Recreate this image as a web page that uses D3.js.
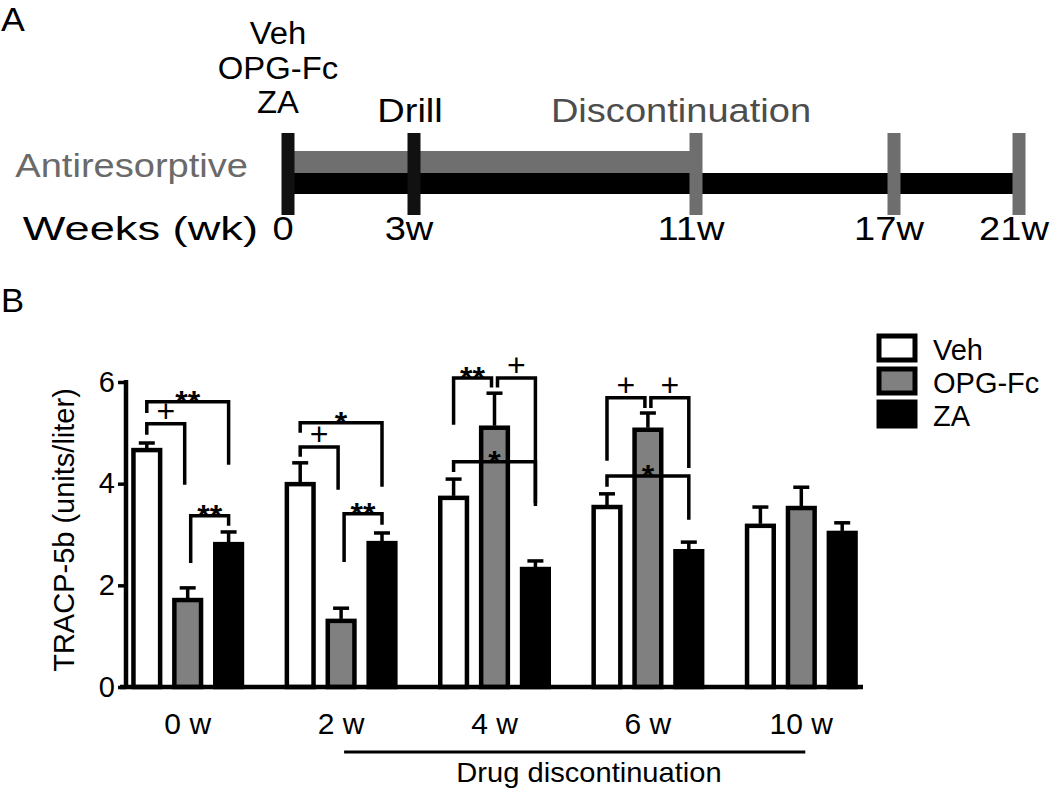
<!DOCTYPE html>
<html>
<head>
<meta charset="utf-8">
<script src="https://cdn.jsdelivr.net/npm/d3@7"></script>
<style>
  body { margin: 0; background: #fff; }
  svg { display: block; font-family: "Liberation Sans", Arial, sans-serif; }
</style>
</head>
<body>
<div id="chart"></div>
<script>
// ---- panel A: timeline ----
var timeWeeks = [0, 3, 11, 17, 21];
var timeLabels = ["0", "3w", "11w", "17w", "21w"];
var timeTickColor = ["#111", "#111", "#6e6e6e", "#6e6e6e", "#6e6e6e"];
var treatments = ["Veh", "OPG-Fc", "ZA"];

// ---- panel B: TRACP-5b ----
var groups = ["0 w", "2 w", "4 w", "6 w", "10 w"];
var series = ["Veh", "OPG-Fc", "ZA"];
var seriesFill = ["#ffffff", "#808080", "#000000"];
var vehMean = [4.70, 4.03, 3.76, 3.58, 3.21];
var vehErr  = [0.10, 0.38, 0.33, 0.22, 0.33];
var opgMean = [1.75, 1.34, 5.14, 5.10, 3.56];
var opgErr  = [0.20, 0.21, 0.64, 0.29, 0.37];
var zaMean  = [2.85, 2.87, 2.36, 2.71, 3.07];
var zaErr   = [0.20, 0.16, 0.12, 0.14, 0.16];
var yTicks = [0, 2, 4, 6];

var sigBrackets = [
  {group: "0 w", from: "Veh", to: "OPG-Fc", top: 5.18, left: 4.96, right: 3.98, mark: "+"},
  {group: "0 w", from: "Veh", to: "ZA", top: 5.61, left: 5.39, right: 4.37, mark: "**"},
  {group: "0 w", from: "OPG-Fc", to: "ZA", top: 3.37, left: 2.44, right: 3.17, mark: "**"},
  {group: "2 w", from: "Veh", to: "OPG-Fc", top: 4.72, left: 4.53, right: 3.88, mark: "+"},
  {group: "2 w", from: "Veh", to: "ZA", top: 5.20, left: 5.00, right: 3.94, mark: "*"},
  {group: "2 w", from: "OPG-Fc", to: "ZA", top: 3.41, left: 2.46, right: 3.19, mark: "**"},
  {group: "4 w", from: "Veh", to: "OPG-Fc", top: 6.08, left: 5.16, right: 5.89, mark: "**"},
  {group: "4 w", from: "OPG-Fc", to: "ZA", top: 6.08, left: 5.89, right: 3.62, mark: "+"},
  {group: "4 w", from: "Veh", to: "ZA", top: 4.43, left: 4.23, right: 3.56, mark: "*"},
  {group: "6 w", from: "Veh", to: "OPG-Fc", top: 5.69, left: 4.45, right: 5.49, mark: "+"},
  {group: "6 w", from: "OPG-Fc", to: "ZA", top: 5.69, left: 5.49, right: 4.31, mark: "+"},
  {group: "6 w", from: "Veh", to: "ZA", top: 4.15, left: 3.94, right: 3.29, mark: "*"}
];

const width = 1050;
const height = 792;

var svg = d3.select("#chart").append("svg")
    .attr("width", width)
    .attr("height", height);

// text helper: the figure's lettering is wider than Arial, so stretch it a bit
function addText(g, str, x, y, size, anchor, fill, sx) {
    return g.append("text")
        .attr("transform", "translate(" + x + "," + y + ") scale(" + sx + ",1)")
        .attr("font-size", size)
        .attr("text-anchor", anchor)
        .attr("fill", fill)
        .text(str);
}

/* ================= Panel A ================= */
var gA = svg.append("g").attr("class", "panelA");
var tScale = d3.scaleLinear().domain(timeWeeks).range([288, 414, 696, 894, 1019]);

addText(gA, "A", 1, 31, 34, "start", "#000", 1.05);

// grey antiresorptive bar (0 -> 11w) and black follow-up bar (0 -> 21w)
gA.append("rect")
    .attr("x", tScale(0)).attr("y", 151)
    .attr("width", tScale(11) - tScale(0)).attr("height", 22)
    .attr("fill", "#6f6f6f");
gA.append("rect")
    .attr("x", tScale(0)).attr("y", 173)
    .attr("width", tScale(21) - tScale(0)).attr("height", 21)
    .attr("fill", "#000");

gA.selectAll("rect.tick")
    .data(timeWeeks)
    .join("rect")
        .attr("class", "tick")
        .attr("x", function(d){ return tScale(d) - 6.5; })
        .attr("y", 133)
        .attr("width", 13)
        .attr("height", 82)
        .attr("fill", function(d, i){ return timeTickColor[i]; });

timeWeeks.forEach(function(w, i) {
    addText(gA, timeLabels[i], tScale(w) - 5, 240, 34, "middle", "#000", 1.12);
});

treatments.forEach(function(t, i) {
    addText(gA, t, tScale(0) - 10, 44 + i * 34.5, 31, "middle", "#000", 1.06);
});
addText(gA, "Drill", tScale(3) - 4, 122, 34, "middle", "#000", 1.12);
addText(gA, "Discontinuation", 681, 122, 34, "middle", "#4d4d4d", 1.12);
addText(gA, "Antiresorptive", 248, 177, 34, "end", "#6a6a6a", 1.12);
addText(gA, "Weeks (wk)", 258, 240, 34, "end", "#000", 1.33);

/* ================= Panel B ================= */
var gB = svg.append("g").attr("class", "panelB");
addText(gB, "B", 1, 312, 33, "start", "#000", 1.05);

var yScale = d3.scaleLinear().domain([0, 6]).range([687, 382]);
var x0 = d3.scaleBand().domain(groups).range([111, 878]).paddingInner(0.2).paddingOuter(0.1);
var x1 = d3.scaleBand().domain(series).range([0, x0.bandwidth()]).paddingInner(0.25).paddingOuter(0.125);

var means = [vehMean, opgMean, zaMean];
var errs = [vehErr, opgErr, zaErr];
var barData = [];
groups.forEach(function(g, gi) {
    series.forEach(function(s, si) {
        barData.push({group: g, series: s, si: si, mean: means[si][gi], err: errs[si][gi]});
    });
});

function cx(g, s) { return x0(g) + x1(s) + x1.bandwidth() / 2; }

// error bars (upper only)
gB.selectAll("line.err")
    .data(barData)
    .join("line")
        .attr("class", "err")
        .attr("x1", function(d){ return cx(d.group, d.series); })
        .attr("x2", function(d){ return cx(d.group, d.series); })
        .attr("y1", function(d){ return yScale(d.mean); })
        .attr("y2", function(d){ return yScale(d.mean + d.err); })
        .attr("stroke", "#000")
        .attr("stroke-width", 3.5);
gB.selectAll("line.cap")
    .data(barData)
    .join("line")
        .attr("class", "cap")
        .attr("x1", function(d){ return cx(d.group, d.series) - 8; })
        .attr("x2", function(d){ return cx(d.group, d.series) + 8; })
        .attr("y1", function(d){ return yScale(d.mean + d.err); })
        .attr("y2", function(d){ return yScale(d.mean + d.err); })
        .attr("stroke", "#000")
        .attr("stroke-width", 3.5);

gB.selectAll("rect.bar")
    .data(barData)
    .join("rect")
        .attr("class", "bar")
        .attr("x", function(d){ return x0(d.group) + x1(d.series) + 2; })
        .attr("y", function(d){ return yScale(d.mean) + 2; })
        .attr("width", x1.bandwidth() - 4)
        .attr("height", function(d){ return yScale(0) - yScale(d.mean) - 2; })
        .attr("fill", function(d){ return seriesFill[d.si]; })
        .attr("stroke", "#000")
        .attr("stroke-width", 4.5);

// significance brackets
sigBrackets.forEach(function(b) {
    var xl = cx(b.group, b.from) + (b.from === "OPG-Fc" ? 3 : 0);
    var xr = cx(b.group, b.to) - (b.to === "OPG-Fc" ? 3 : 0);
    var yt = yScale(b.top);
    var path = d3.path();
    path.moveTo(xl, yScale(b.left));
    path.lineTo(xl, yt);
    path.lineTo(xr, yt);
    path.lineTo(xr, yScale(b.right));
    gB.append("path")
        .attr("d", path.toString())
        .attr("fill", "none")
        .attr("stroke", "#000")
        .attr("stroke-width", 3.5);
    var star = b.mark !== "+";
    gB.append("text")
        .attr("x", (xl + xr) / 2)
        .attr("y", star ? yt + 11 : yt - 2)
        .attr("text-anchor", "middle")
        .attr("font-size", 32)
        .attr("font-weight", star ? "bold" : "normal")
        .text(b.mark);
});

// y axis
var yAxis = gB.append("g")
    .attr("transform", "translate(126,0)")
    .call(d3.axisLeft(yScale).tickValues(yTicks).tickSize(8).tickPadding(3).tickFormat(d3.format("d")));
yAxis.select(".domain").attr("stroke-width", 4.5).attr("d", "M0," + (yScale(6) - 2) + "V" + yScale(0));
yAxis.selectAll(".tick line").attr("stroke-width", 3.5);
yAxis.selectAll(".tick text").attr("font-size", 29).attr("font-family", "Liberation Sans, Arial, sans-serif");

// x axis baseline + group labels
gB.append("line")
    .attr("x1", 120).attr("x2", 863)
    .attr("y1", yScale(0)).attr("y2", yScale(0))
    .attr("stroke", "#000")
    .attr("stroke-width", 4.5);
groups.forEach(function(g) {
    addText(gB, g, x0(g) + x0.bandwidth() / 2, 734, 30, "middle", "#000", 1.0);
});

// drug discontinuation marker
gB.append("line")
    .attr("x1", x0("2 w") + x0.bandwidth() / 2 + 3)
    .attr("x2", x0("10 w") + x0.bandwidth() / 2 + 4)
    .attr("y1", 752).attr("y2", 752)
    .attr("stroke", "#000")
    .attr("stroke-width", 3);
addText(gB, "Drug discontinuation", 589, 782, 28, "middle", "#000", 1.04);

// y label
gB.append("text")
    .attr("transform", "translate(74,530) rotate(-90)")
    .attr("text-anchor", "middle")
    .attr("font-size", 29)
    .text("TRACP-5b (units/liter)");

// legend
var legend = gB.append("g").attr("class", "legend");
series.forEach(function(s, i) {
    var ly = 336 + i * 33;
    legend.append("rect")
        .attr("x", 879).attr("y", ly)
        .attr("width", 36).attr("height", 24)
        .attr("fill", seriesFill[i])
        .attr("stroke", "#000")
        .attr("stroke-width", 5);
    addText(legend, s, 933, ly + 24, 29, "start", "#000", 1.0);
});
</script>
</body>
</html>
